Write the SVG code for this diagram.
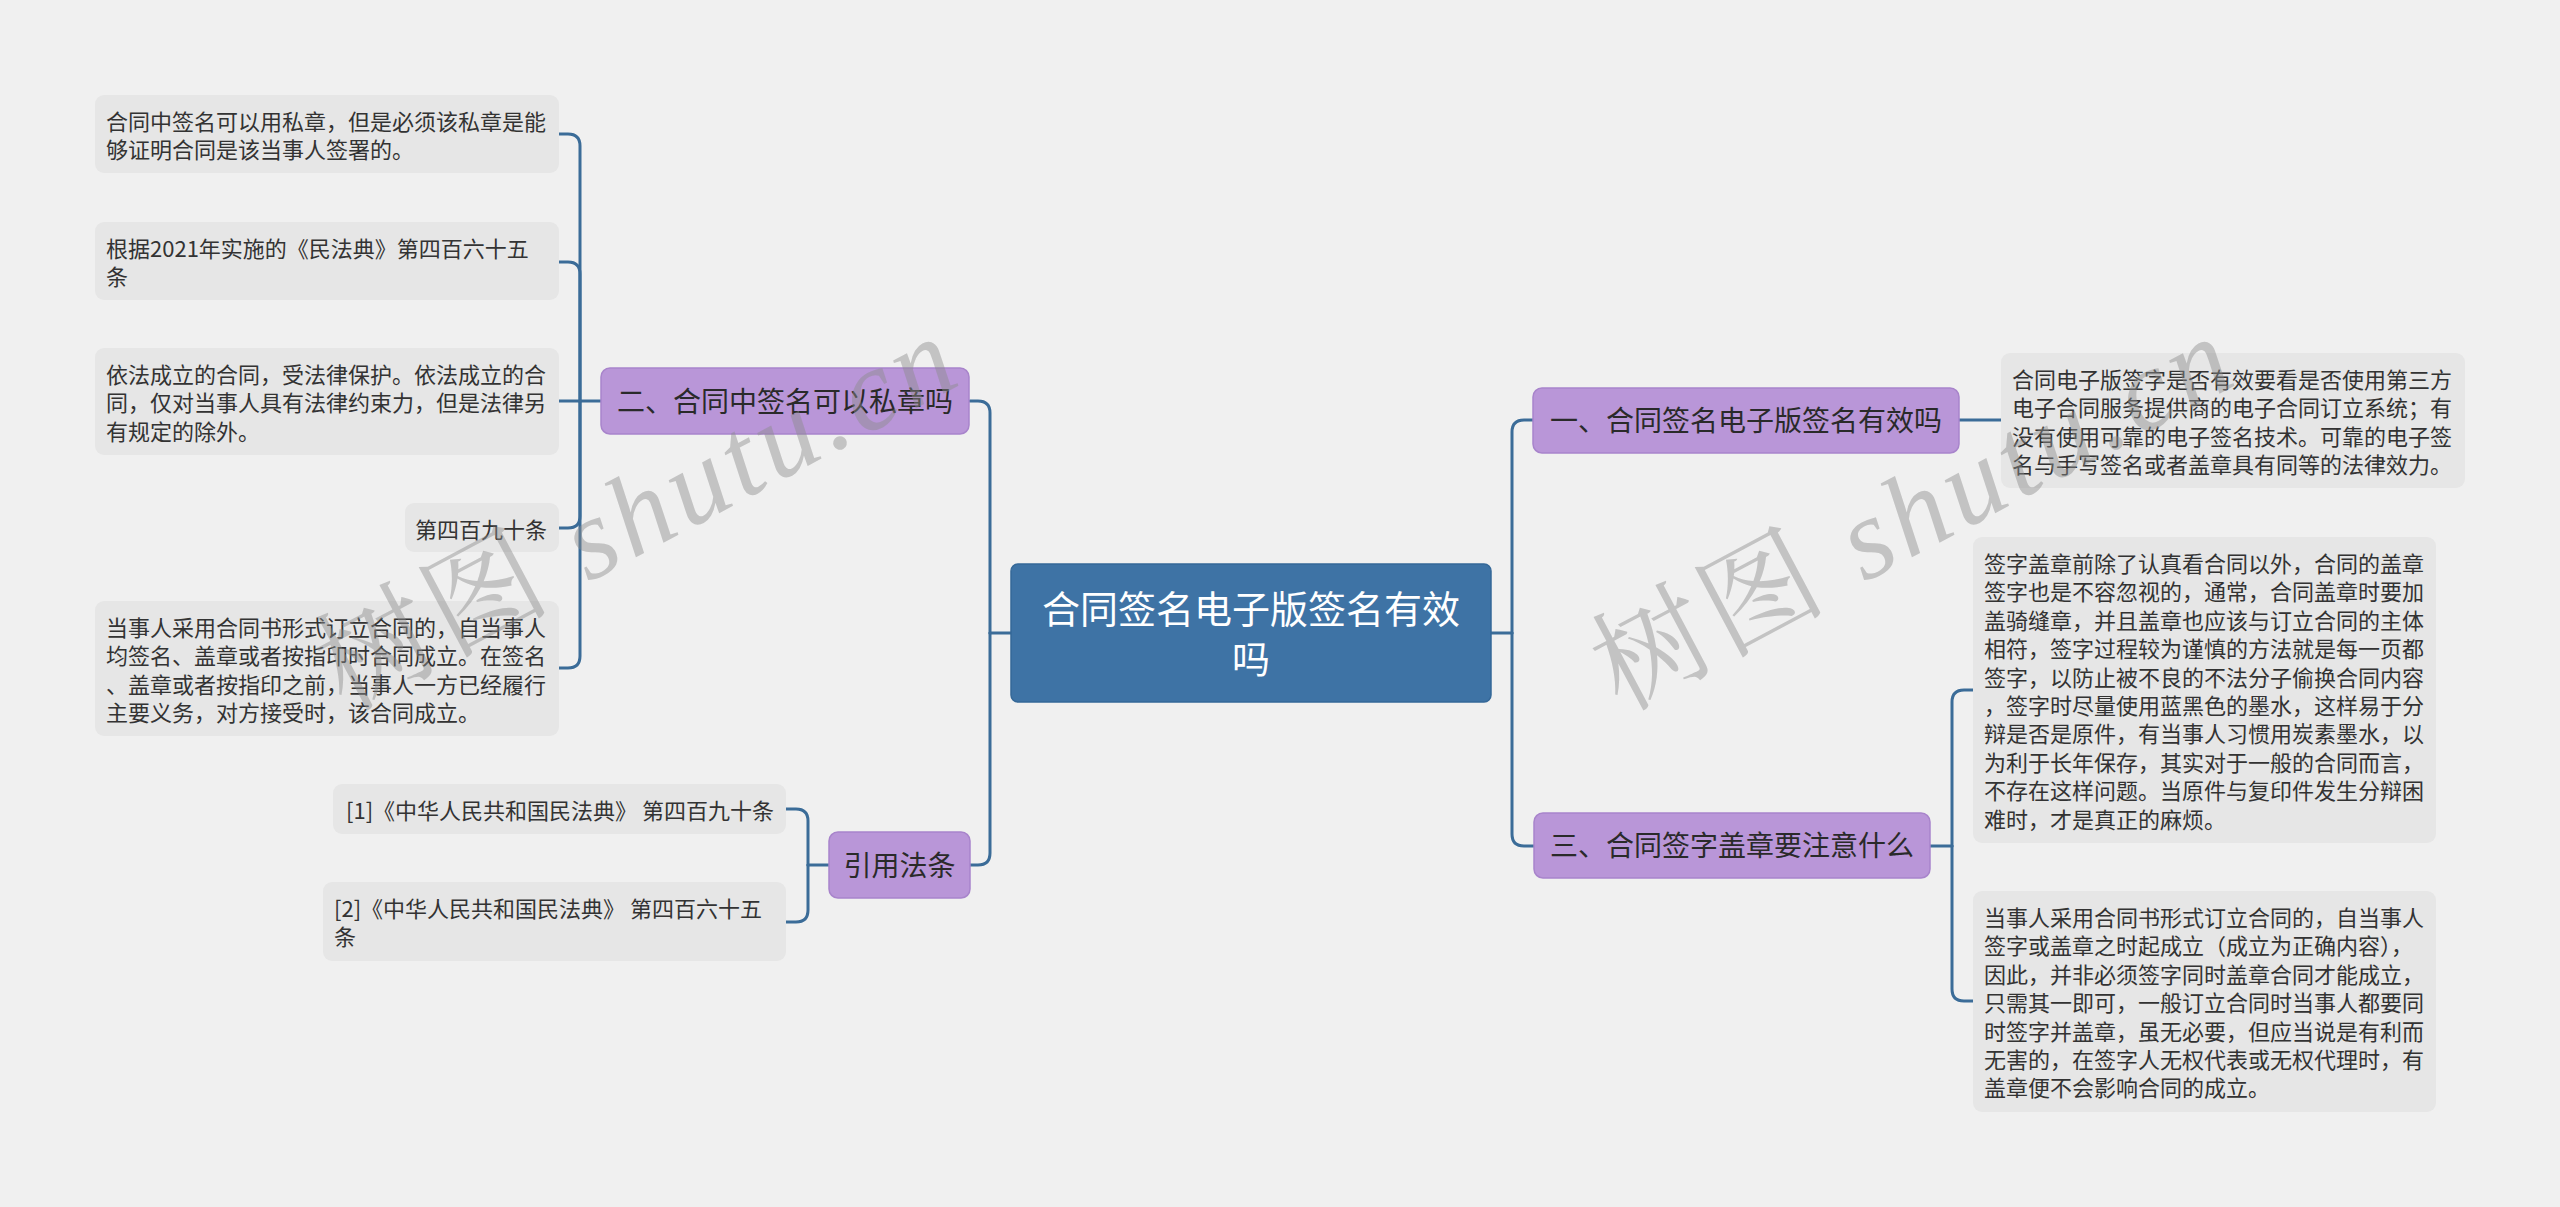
<svg xmlns="http://www.w3.org/2000/svg" width="2560" height="1207" viewBox="0 0 2560 1207">
<style>
.bg{fill:#f0f0f0}
.leaf{fill:#e6e6e6}
.l1{fill:#b996d8;stroke:#a884cb;stroke-width:1.5}
.root{fill:#3e73a5;stroke:#356898;stroke-width:1.5}
.t{font-family:"Noto Sans CJK SC","Microsoft YaHei",sans-serif;font-size:22px;fill:#333}
.t1{font-family:"Noto Sans CJK SC","Microsoft YaHei",sans-serif;font-size:28px;fill:#2a2a2a;text-anchor:middle}
.tr{font-family:"Noto Sans CJK SC","Microsoft YaHei",sans-serif;font-size:38px;fill:#ffffff;text-anchor:middle}
.c{fill:none;stroke:#3b6c98;stroke-width:3;stroke-linecap:round}
.wm{font-family:"Liberation Serif","Noto Serif CJK SC","Noto Sans CJK SC",serif;font-size:115px;fill:#8c8c8c;fill-opacity:0.45}
</style>
<rect class="bg" x="0" y="0" width="2560" height="1207"/>

<g id="connectors">
  <path class="c" d="M1011,633 H990"/>
  <path class="c" d="M990,633 V413 Q990,401 978,401 H970"/>
  <path class="c" d="M990,633 V853 Q990,865 978,865 H970"/>
  <path class="c" d="M601,401 H580"/>
  <path class="c" d="M580,401 V146 Q580,134 568,134 H559"/>
  <path class="c" d="M580,401 V274 Q580,262 568,262 H559"/>
  <path class="c" d="M580,401 H559"/>
  <path class="c" d="M580,401 V516 Q580,528 568,528 H559"/>
  <path class="c" d="M580,401 V656 Q580,668 568,668 H559"/>
  <path class="c" d="M829,865 H808"/>
  <path class="c" d="M808,865 V821 Q808,809 796,809 H786"/>
  <path class="c" d="M808,865 V910 Q808,922 796,922 H786"/>
  <path class="c" d="M1491,633 H1512"/>
  <path class="c" d="M1512,633 V432 Q1512,420 1524,420 H1533"/>
  <path class="c" d="M1512,633 V834 Q1512,846 1524,846 H1534"/>
  <path class="c" d="M1959,420 H2001"/>
  <path class="c" d="M1930,846 H1952"/>
  <path class="c" d="M1952,846 V702 Q1952,690 1964,690 H1973"/>
  <path class="c" d="M1952,846 V989 Q1952,1001 1964,1001 H1973"/>
</g>

<g id="root">
  <rect class="root" x="1011" y="564" width="480" height="138" rx="7"/>
  <text class="tr" x="1251" y="623">合同签名电子版签名有效</text>
  <text class="tr" x="1251" y="673">吗</text>
</g>

<g id="node-er">
  <rect class="l1" x="601" y="368" width="368" height="66" rx="9"/>
  <text class="t1" x="785" y="412">二、合同中签名可以私章吗</text>
</g>
<g id="node-yinyong">
  <rect class="l1" x="829" y="832" width="141" height="66" rx="9"/>
  <text class="t1" x="899.5" y="876">引用法条</text>
</g>
<g id="node-yi">
  <rect class="l1" x="1533" y="388" width="426" height="65" rx="9"/>
  <text class="t1" x="1746" y="431">一、合同签名电子版签名有效吗</text>
</g>
<g id="node-san">
  <rect class="l1" x="1534" y="813" width="396" height="65" rx="9"/>
  <text class="t1" x="1732" y="856">三、合同签字盖章要注意什么</text>
</g>

<g id="leaf-l1">
  <rect class="leaf" x="95" y="95" width="464" height="78" rx="9"/>
  <text class="t" x="106" y="130">合同中签名可以用私章，但是必须该私章是能</text>
  <text class="t" x="106" y="158.4">够证明合同是该当事人签署的。</text>
</g>
<g id="leaf-l2">
  <rect class="leaf" x="95" y="222" width="464" height="78" rx="9"/>
  <text class="t" x="106" y="257">根据2021年实施的《民法典》第四百六十五</text>
  <text class="t" x="106" y="285.4">条</text>
</g>
<g id="leaf-l3">
  <rect class="leaf" x="95" y="348" width="464" height="107" rx="9"/>
  <text class="t" x="106" y="383">依法成立的合同，受法律保护。依法成立的合</text>
  <text class="t" x="106" y="411.4">同，仅对当事人具有法律约束力，但是法律另</text>
  <text class="t" x="106" y="439.8">有规定的除外。</text>
</g>
<g id="leaf-l4">
  <rect class="leaf" x="405" y="503" width="154" height="49" rx="9"/>
  <text class="t" x="415" y="538">第四百九十条</text>
</g>
<g id="leaf-l5">
  <rect class="leaf" x="95" y="601" width="464" height="135" rx="9"/>
  <text class="t" x="106" y="636">当事人采用合同书形式订立合同的，自当事人</text>
  <text class="t" x="106" y="664.4">均签名、盖章或者按指印时合同成立。在签名</text>
  <text class="t" x="106" y="692.8">、盖章或者按指印之前，当事人一方已经履行</text>
  <text class="t" x="106" y="721.2">主要义务，对方接受时，该合同成立。</text>
</g>

<g id="leaf-c1">
  <rect class="leaf" x="333" y="784" width="453" height="50" rx="9"/>
  <text class="t" x="346" y="819">[1]《中华人民共和国民法典》 第四百九十条</text>
</g>
<g id="leaf-c2">
  <rect class="leaf" x="323" y="882" width="463" height="79" rx="9"/>
  <text class="t" x="334" y="917">[2]《中华人民共和国民法典》 第四百六十五</text>
  <text class="t" x="334" y="945.4">条</text>
</g>

<g id="leaf-r1">
  <rect class="leaf" x="2001" y="353" width="464" height="135" rx="9"/>
  <text class="t" x="2012" y="388">合同电子版签字是否有效要看是否使用第三方</text>
  <text class="t" x="2012" y="416.4">电子合同服务提供商的电子合同订立系统；有</text>
  <text class="t" x="2012" y="444.8">没有使用可靠的电子签名技术。可靠的电子签</text>
  <text class="t" x="2012" y="473.2">名与手写签名或者盖章具有同等的法律效力。</text>
</g>
<g id="leaf-r2">
  <rect class="leaf" x="1973" y="537" width="463" height="306" rx="9"/>
  <text class="t" x="1984" y="572">签字盖章前除了认真看合同以外，合同的盖章</text>
  <text class="t" x="1984" y="600.4">签字也是不容忽视的，通常，合同盖章时要加</text>
  <text class="t" x="1984" y="628.8">盖骑缝章，并且盖章也应该与订立合同的主体</text>
  <text class="t" x="1984" y="657.2">相符，签字过程较为谨慎的方法就是每一页都</text>
  <text class="t" x="1984" y="685.6">签字，以防止被不良的不法分子偷换合同内容</text>
  <text class="t" x="1984" y="714">，签字时尽量使用蓝黑色的墨水，这样易于分</text>
  <text class="t" x="1984" y="742.4">辩是否是原件，有当事人习惯用炭素墨水，以</text>
  <text class="t" x="1984" y="770.8">为利于长年保存，其实对于一般的合同而言，</text>
  <text class="t" x="1984" y="799.2">不存在这样问题。当原件与复印件发生分辩困</text>
  <text class="t" x="1984" y="827.6">难时，才是真正的麻烦。</text>
</g>
<g id="leaf-r3">
  <rect class="leaf" x="1973" y="891" width="463" height="221" rx="9"/>
  <text class="t" x="1984" y="926">当事人采用合同书形式订立合同的，自当事人</text>
  <text class="t" x="1984" y="954.4">签字或盖章之时起成立（成立为正确内容），</text>
  <text class="t" x="1984" y="982.8">因此，并非必须签字同时盖章合同才能成立，</text>
  <text class="t" x="1984" y="1011.2">只需其一即可，一般订立合同时当事人都要同</text>
  <text class="t" x="1984" y="1039.6">时签字并盖章，虽无必要，但应当说是有利而</text>
  <text class="t" x="1984" y="1068">无害的，在签字人无权代表或无权代理时，有</text>
  <text class="t" x="1984" y="1096.4">盖章便不会影响合同的成立。</text>
</g>

<g id="watermark">
  <text class="wm" transform="translate(345,712) rotate(-28)" x="0" y="0" textLength="700" lengthAdjust="spacing">树图 <tspan font-style="italic">shutu.cn</tspan></text>
  <text class="wm" transform="translate(1621,712) rotate(-28)" x="0" y="0" textLength="700" lengthAdjust="spacing">树图 <tspan font-style="italic">shutu.cn</tspan></text>
</g>
</svg>
